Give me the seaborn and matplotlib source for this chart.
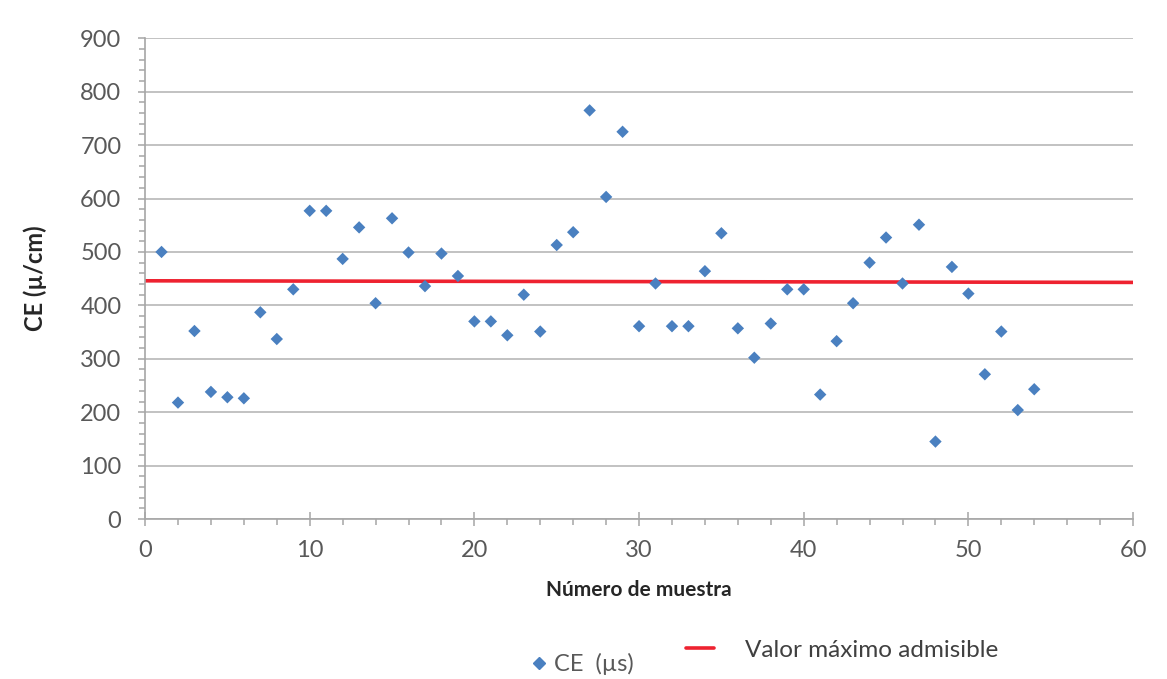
import numpy as np
import pandas as pd
import matplotlib
matplotlib.use("Agg")
import matplotlib.pyplot as plt
import seaborn as sns
from matplotlib.lines import Line2D
from matplotlib.ticker import MultipleLocator

# sample number and conductivity values
muestra = list(range(1, 55))
ce = [500, 218, 352, 238, 228, 226, 387, 337, 430, 577,
      577, 487, 546, 404, 563, 499, 436, 497, 455, 370,
      370, 344, 420, 351, 513, 537, 765, 603, 725, 361,
      441, 361, 361, 464, 535, 357, 302, 366, 430, 430,
      233, 333, 404, 480, 527, 441, 551, 145, 472, 422,
      271, 351, 204, 243]

# maximum admissible value line (endpoints)
limite_x = [0, 60]
limite_y = [446, 443]

df = pd.DataFrame({"muestra": muestra, "CE": ce})
df_lim = pd.DataFrame({"x": limite_x, "y": limite_y})

sns.set_theme(style="white")
plt.rcParams['font.family'] = ['Lato', 'DejaVu Sans']

gris = "#595959"
azul = "#4a80c0"
rojo = "#ee2230"

fig, ax = plt.subplots(figsize=(11.67, 6.79), dpi=100)
fig.subplots_adjust(left=0.1243, right=0.9709, top=0.9436, bottom=0.2356)

ax.yaxis.grid(True, color="#bdbdbd", linewidth=1.3)
ax.set_axisbelow(True)

sns.lineplot(data=df_lim, x="x", y="y", color=rojo, linewidth=2.6, ax=ax, zorder=2)
sns.scatterplot(data=df, x="muestra", y="CE", marker="D", s=40, color=azul,
                edgecolor="none", ax=ax, zorder=3)

ax.set_xlim(0, 60)
ax.set_ylim(0, 900)
ax.xaxis.set_major_locator(MultipleLocator(10))
ax.xaxis.set_minor_locator(MultipleLocator(2))
ax.yaxis.set_major_locator(MultipleLocator(100))
ax.yaxis.set_minor_locator(MultipleLocator(20))

for side in ["top", "right"]:
    ax.spines[side].set_visible(False)
for side in ["left", "bottom"]:
    ax.spines[side].set_color("#a6a6a6")
    ax.spines[side].set_linewidth(1.2)

ax.tick_params(axis="both", which="both", bottom=True, left=True,
               colors="#a6a6a6", labelcolor=gris, labelsize=17, width=1.1)
ax.tick_params(axis="x", which="major", direction="inout", length=10, pad=10)
ax.tick_params(axis="x", which="minor", direction="out", length=4)
ax.tick_params(axis="y", which="major", direction="out", length=5, pad=12)
ax.tick_params(axis="y", which="minor", direction="out", length=4)

ax.set_xlabel("Número de muestra", fontsize=15, fontweight="bold", color="#262626", labelpad=14)
ax.set_ylabel("CE (µ/cm)", fontsize=17, fontweight="bold", color="#262626", labelpad=24)

h_ce = Line2D([], [], marker="D", linestyle="none", color=azul, markersize=6)
h_lim = Line2D([], [], color=rojo, linewidth=2.6)

leg1 = fig.legend(handles=[h_ce], labels=["CE  (µs)"], loc="center",
                  bbox_to_anchor=(583 / 1167, 1 - 664 / 679), frameon=False,
                  fontsize=17, handlelength=0.6, handletextpad=0.35, labelcolor=gris,
                  borderpad=0, borderaxespad=0)
leg2 = fig.legend(handles=[h_lim], labels=["Valor máximo admisible"], loc="center",
                  bbox_to_anchor=(842 / 1167, 1 - 650 / 679), frameon=False,
                  fontsize=17.5, handlelength=1.15, handletextpad=1.25, labelcolor="#404040",
                  borderpad=0, borderaxespad=0)

fig.savefig("out.png", dpi=100)
